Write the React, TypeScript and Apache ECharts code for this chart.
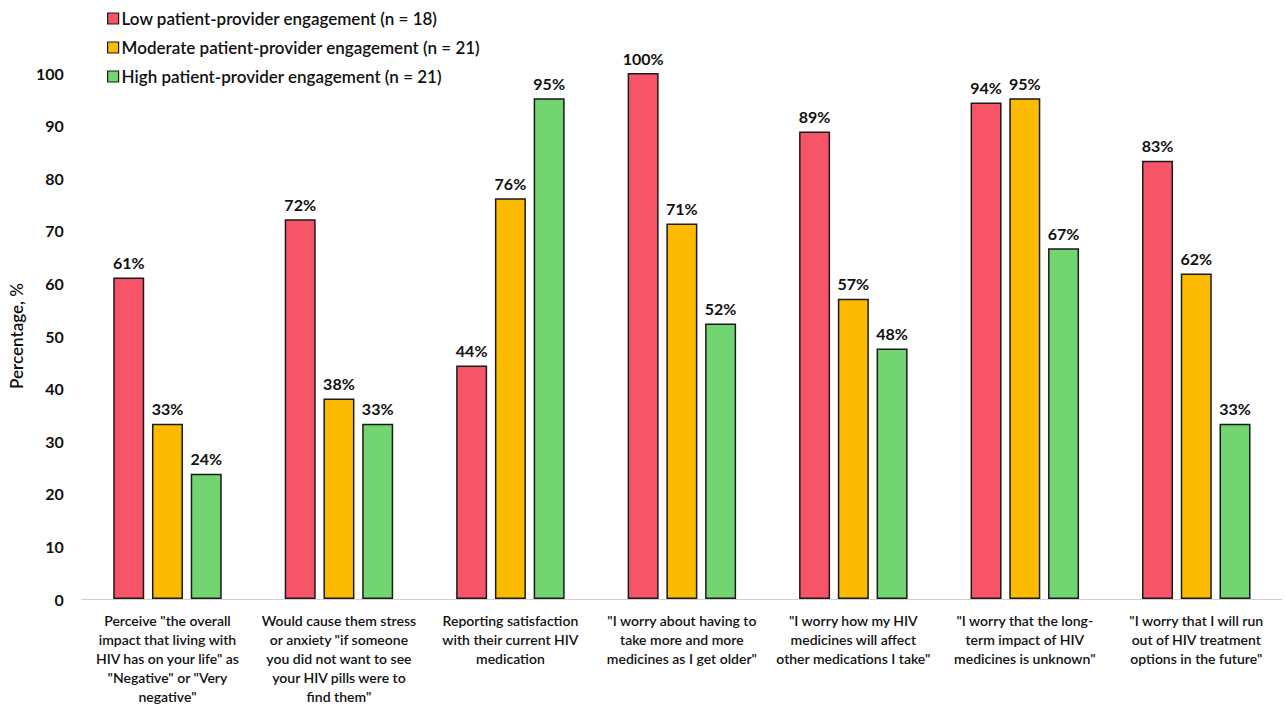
import React, { useEffect, useRef } from "react";
import * as echarts from "echarts";

const categories = [
  'Perceive "the overall\nimpact that living with\nHIV has on your life" as\n"Negative" or "Very\nnegative"',
  'Would cause them stress\nor anxiety "if someone\nyou did not want to see\nyour HIV pills were to\nfind them"',
  'Reporting satisfaction\nwith their current HIV\nmedication',
  '"I worry about having to\ntake more and more\nmedicines as I get older"',
  '"I worry how my HIV\nmedicines will affect\nother medications I take"',
  '"I worry that the long-\nterm impact of HIV\nmedicines is unknown"',
  '"I worry that I will run\nout of HIV treatment\noptions in the future"',
];

const seriesNames = [
  "Low patient-provider engagement (n = 18)",
  "Moderate patient-provider engagement (n = 21)",
  "High patient-provider engagement (n = 21)",
];

const lowValues = [61.1, 72.2, 44.4, 100, 88.9, 94.4, 83.3];
const moderateValues = [33.3, 38.1, 76.2, 71.4, 57.1, 95.2, 61.9];
const highValues = [23.8, 33.3, 95.2, 52.4, 47.6, 66.7, 33.3];

const yTicks = [0, 10, 20, 30, 40, 50, 60, 70, 80, 90, 100];

const colors = ["#F85468", "#FDBB00", "#72D572"];

const FONT = "Lato";

export default function App() {
  const ref = useRef<HTMLDivElement>(null);
  useEffect(() => {
    if (!ref.current) return;
    const chart = echarts.init(ref.current, undefined, { renderer: "svg" });
    const values = [lowValues, moderateValues, highValues];
    chart.setOption({
      animation: false,
      backgroundColor: "#ffffff",
      textStyle: { fontFamily: FONT },
      legend: {
        orient: "vertical",
        left: 102,
        top: 5,
        itemWidth: 11,
        itemHeight: 11,
        itemGap: 12,
        icon: "rect",
        itemStyle: { borderColor: "#1a1a1a", borderWidth: 1.2 },
        textStyle: { fontFamily: FONT, fontSize: 17, color: "#111", fontWeight: 600, padding: [0, 0, 0, -2] },
        data: seriesNames,
      },
      grid: { left: 79, right: 5, top: 73, bottom: 99, containLabel: false },
      xAxis: {
        type: "category",
        data: categories,
        axisLine: { show: true, lineStyle: { color: "#d0d0d0", width: 1 } },
        axisTick: { show: false },
        axisLabel: {
          interval: 0,
          margin: 12,
          fontFamily: FONT,
          fontSize: 14,
          fontWeight: 600,
          lineHeight: 19,
          color: "#111",
          align: "center",
        },
      },
      yAxis: {
        type: "value",
        min: yTicks[0],
        max: yTicks[yTicks.length - 1],
        interval: 10,
        name: "Percentage, %",
        nameLocation: "middle",
        nameGap: 52,
        nameRotate: 90,
        nameTextStyle: { fontFamily: FONT, fontSize: 17, color: "#111", fontWeight: 600 },
        splitLine: { show: false },
        axisLine: { show: false },
        axisTick: { show: false },
        axisLabel: {
          margin: 18,
          fontFamily: FONT,
          fontSize: 16,
          fontWeight: 700,
          color: "#111",
        },
      },
      series: seriesNames.map((name, i) => ({
        name,
        type: "bar",
        data: values[i],
        barWidth: 31,
        barGap: "25%",
        itemStyle: { color: colors[i], borderColor: "#1a1a1a", borderWidth: 1.5 },
        label: {
          show: true,
          position: "top",
          distance: 7,
          fontFamily: FONT,
          fontSize: 16,
          fontWeight: 700,
          color: "#111",
          formatter: (p: any) => Math.round(p.value) + "%",
        },
      })),
    });
    return () => chart.dispose();
  }, []);
  return (
    <div
      ref={ref}
      style={{ position: "fixed", left: 0, top: 0, width: 1287, height: 706 }}
    />
  );
}
